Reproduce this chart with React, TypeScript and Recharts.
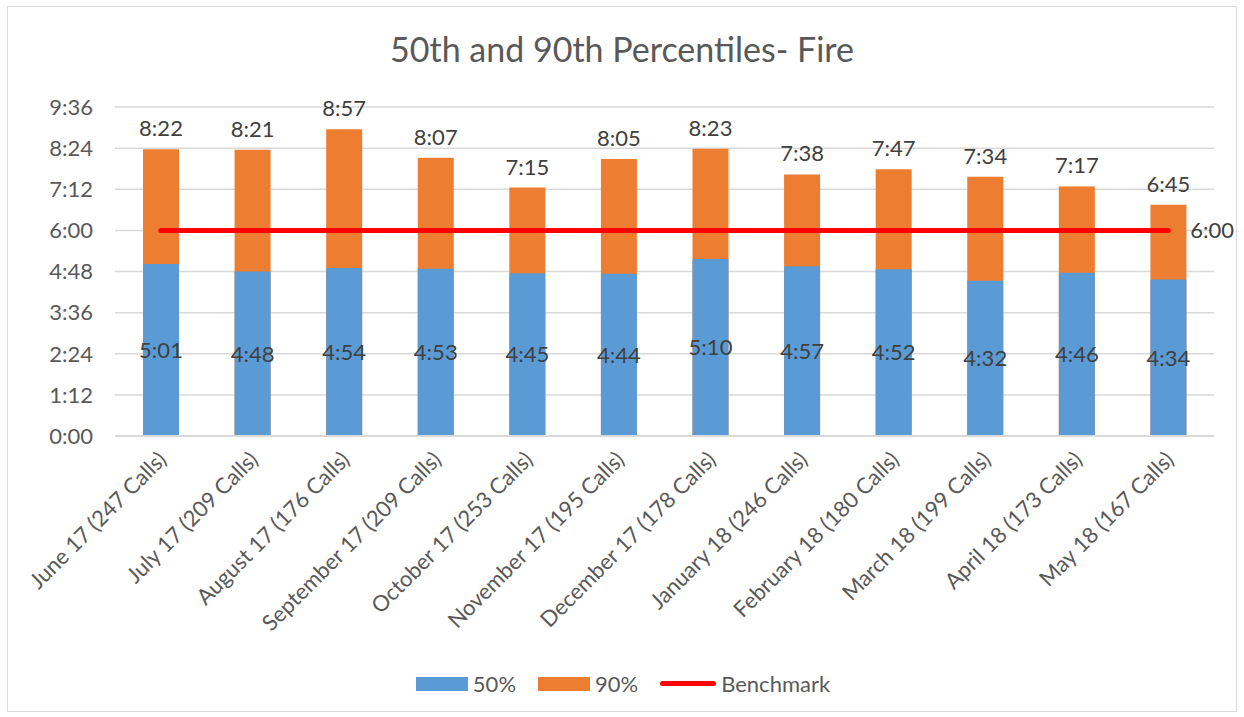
import {
  Bar,
  CartesianGrid,
  ComposedChart,
  LabelList,
  Line,
  XAxis,
  YAxis,
} from "recharts";

// values are seconds
const months = [
  "June 17 (247 Calls)",
  "July 17 (209 Calls)",
  "August 17 (176 Calls)",
  "September 17 (209 Calls)",
  "October 17 (253 Calls)",
  "November 17 (195 Calls)",
  "December 17 (178 Calls)",
  "January 18 (246 Calls)",
  "February 18 (180 Calls)",
  "March 18 (199 Calls)",
  "April 18 (173 Calls)",
  "May 18 (167 Calls)",
];
const p50 = [301, 288, 294, 293, 285, 284, 310, 297, 292, 272, 286, 274];
const p90 = [502, 501, 537, 487, 435, 485, 503, 458, 467, 454, 437, 405];
const benchmark = [360, 360, 360, 360, 360, 360, 360, 360, 360, 360, 360, 360];
const yTicks = [0, 72, 144, 216, 288, 360, 432, 504, 576];

const FONT = "Lato, 'Open Sans', sans-serif";

const data = months.map((month, i) => ({
  month,
  p50: p50[i],
  p90: p90[i],
  benchmark: benchmark[i],
}));

function fmt(sec: number) {
  const m = Math.floor(sec / 60);
  const s = Math.round(sec % 60);
  return `${m}:${s.toString().padStart(2, "0")}`;
}

function MonthTick({ x, y, payload }: { x?: number; y?: number; payload?: { value: string } }) {
  const tx = (x ?? 0) + 7;
  const ty = (y ?? 0) + 17;
  return (
    <text
      x={tx}
      y={ty}
      transform={`rotate(-45 ${tx} ${ty})`}
      textAnchor="end"
      fill="#595959"
      fontSize={22}
      fontFamily={FONT}
    >
      {payload?.value}
    </text>
  );
}

function BenchmarkLabel(props: { x?: number; y?: number; index?: number; value?: number }) {
  if (props.index !== months.length - 1) return null;
  return (
    <text
      x={(props.x ?? 0) + 22}
      y={(props.y ?? 0) + 8}
      fill="#404040"
      fontSize={22}
      fontFamily={FONT}
    >
      {fmt(props.value ?? 0)}
    </text>
  );
}

function LegendRow() {
  const item = { display: "flex", alignItems: "center", gap: 5 } as const;
  return (
    <div
      style={{
        position: "absolute",
        top: 663,
        left: 0,
        width: 1230,
        display: "flex",
        justifyContent: "center",
        gap: 22,
        fontFamily: FONT,
        fontSize: 22,
        color: "#595959",
      }}
    >
      <span style={item}>
        <span style={{ width: 52, height: 14, background: "#5B9BD5" }} />
        50%
      </span>
      <span style={item}>
        <span style={{ width: 52, height: 14, background: "#ED7D31" }} />
        90%
      </span>
      <span style={item}>
        <span style={{ width: 56, height: 5, borderRadius: 3, background: "#FF0000" }} />
        Benchmark
      </span>
    </div>
  );
}

export default function App() {
  return (
    <div
      style={{
        position: "absolute",
        left: 7,
        top: 6,
        width: 1228,
        height: 704,
        border: "1px solid #d9d9d9",
        background: "#fff",
      }}
    >
      <div
        style={{
          position: "absolute",
          top: 21,
          width: 1228,
          textAlign: "center",
          fontFamily: FONT,
          fontSize: 34,
          color: "#595959",
        }}
      >
        50th and 90th Percentiles- Fire
      </div>
      <ComposedChart
        width={1228}
        height={704}
        data={data}
        margin={{ top: 100, right: 22, left: 0, bottom: 0 }}
        barSize={36}
        barGap={-36}
      >
        <CartesianGrid vertical={false} stroke="#d9d9d9" strokeWidth={1.5} />
        <XAxis
          dataKey="month"
          interval={0}
          height={275}
          tickLine={false}
          axisLine={{ stroke: "#d9d9d9", strokeWidth: 2 }}
          tick={<MonthTick />}
        />
        <YAxis
          width={107}
          domain={[0, 576]}
          ticks={yTicks}
          tickFormatter={fmt}
          tickLine={false}
          axisLine={false}
          tickSize={0}
          tickMargin={22}
          tick={{ fill: "#595959", fontSize: 22, fontFamily: FONT }}
        />
        <Bar dataKey="p90" name="90%" fill="#ED7D31" isAnimationActive={false}>
          <LabelList
            dataKey="p90"
            position="top"
            offset={13}
            formatter={(v: number) => fmt(v)}
            fill="#404040"
            fontSize={22}
            fontFamily={FONT}
          />
        </Bar>
        <Bar dataKey="p50" name="50%" fill="#5B9BD5" isAnimationActive={false}>
          <LabelList
            dataKey="p50"
            position="center"
            formatter={(v: number) => fmt(v)}
            fill="#404040"
            fontSize={22}
            fontFamily={FONT}
          />
        </Bar>
        <Line
          dataKey="benchmark"
          name="Benchmark"
          stroke="#FF0000"
          strokeWidth={5}
          strokeLinecap="round"
          dot={false}
          isAnimationActive={false}
        >
          <LabelList dataKey="benchmark" content={<BenchmarkLabel />} />
        </Line>
      </ComposedChart>
      <LegendRow />
    </div>
  );
}
